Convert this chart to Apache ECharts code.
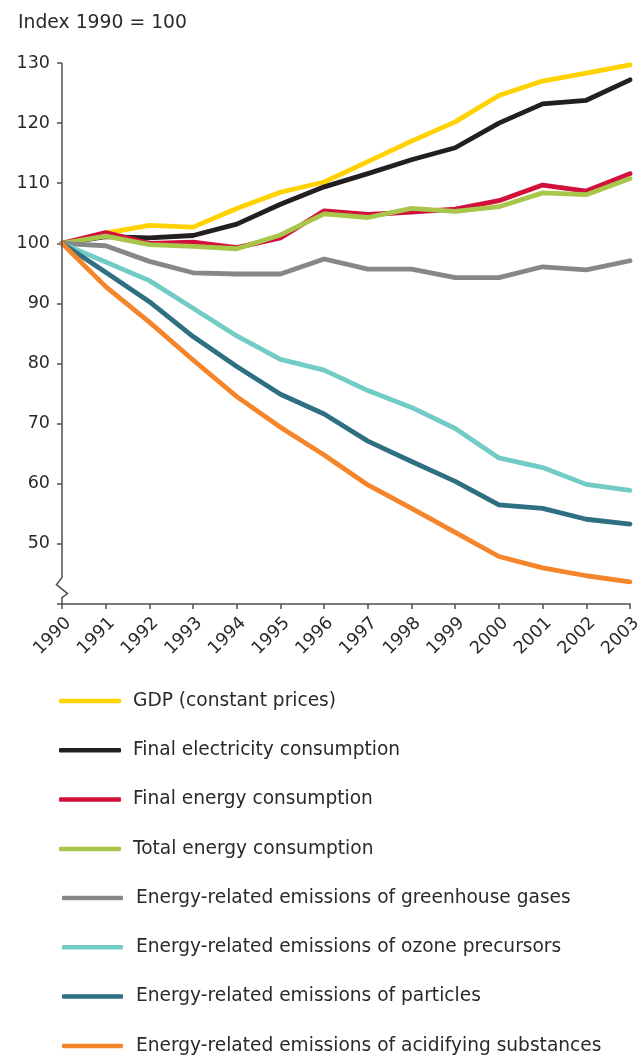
<!DOCTYPE html>
<html><head><meta charset="utf-8">
<script src="https://cdn.jsdelivr.net/npm/echarts@6/dist/echarts.min.js"></script>
<style>html,body{margin:0;padding:0;background:#fff}#c{width:641px;height:1055px}</style>
</head><body><div id="c"></div>
<script>
const years = ['1990','1991','1992','1993','1994','1995','1996','1997','1998','1999','2000','2001','2002','2003'];
const gdp         = [100, 101.7, 103.0, 102.7, 105.8, 108.5, 110.2, 113.6, 117.0, 120.2, 124.6, 127.0, 128.3, 129.7];
const electricity = [100, 101.1, 100.9, 101.3, 103.2, 106.5, 109.4, 111.6, 113.9, 115.9, 120.0, 123.2, 123.8, 127.2];
const finalEnergy = [100, 101.8, 100.0, 100.2, 99.3, 100.9, 105.4, 104.8, 105.2, 105.7, 107.1, 109.7, 108.7, 111.6];
const totalEnergy = [100, 101.2, 99.8, 99.5, 99.1, 101.4, 104.9, 104.3, 105.8, 105.3, 106.1, 108.4, 108.1, 110.8];
const ghg         = [100, 99.6, 97.0, 95.1, 94.9, 94.9, 97.4, 95.7, 95.7, 94.3, 94.3, 96.1, 95.6, 97.1];
const ozone       = [100, 96.9, 93.8, 89.2, 84.6, 80.7, 78.9, 75.5, 72.7, 69.2, 64.3, 62.7, 59.9, 58.9];
const particles   = [100, 95.2, 90.3, 84.5, 79.5, 74.9, 71.6, 67.1, 63.7, 60.4, 56.5, 55.9, 54.1, 53.3];
const acidifying  = [100, 92.8, 86.9, 80.6, 74.5, 69.4, 64.8, 59.8, 55.9, 51.9, 47.9, 46.0, 44.7, 43.7];
const seriesNames = ['GDP (constant prices)','Final electricity consumption','Final energy consumption','Total energy consumption',
  'Energy-related emissions of greenhouse gases','Energy-related emissions of ozone precursors','Energy-related emissions of particles','Energy-related emissions of acidifying substances'];
const seriesData = [gdp, electricity, finalEnergy, totalEnergy, ghg, ozone, particles, acidifying];
const colors = ['#FFD200','#231F20','#D3103C','#A8C64A','#868789','#72CBC5','#2E6F82','#F5852A'];
const yMin = 40, yMax = 130, yStep = 10;
const yTitle = 'Index 1990 = 100';

const FONT = 'DejaVu Sans';
const TXT = '#2a2a2a';
const AX = '#505050';
const chart = echarts.init(document.getElementById('c'), null, {renderer:'canvas'});
chart.setOption({
  animation: false,
  title: {text: yTitle, left: 18, top: 14, padding: 0, textStyle: {fontFamily: FONT, fontSize: 18.8, fontWeight: 'normal', color: TXT}},
  grid: {left: 62, right: 11, top: 63, bottom: 451, containLabel: false, outerBoundsMode: 'none'},
  xAxis: {type: 'category', data: years, boundaryGap: false,
    axisLine: {onZero: false, lineStyle: {color: AX, width: 1.5}},
    axisTick: {length: 5, lineStyle: {color: AX, width: 1.5}},
    axisLabel: {rotate: 45, margin: 10, verticalAlign: 'top', fontFamily: FONT, fontSize: 17.5, color: TXT},
    splitLine: {show: false}},
  yAxis: {type: 'value', min: yMin, max: yMax, interval: yStep,
    axisLine: {show: false},
    axisTick: {show: true, length: 5, lineStyle: {color: AX, width: 1.5}},
    axisLabel: {margin: 12, fontFamily: FONT, fontSize: 17.5, color: TXT, formatter: v => v === yMin ? '' : String(v)},
    splitLine: {show: false}},
  legend: [
    {orient: 'vertical', left: 59, top: 691, height: 200, padding: 0, itemWidth: 62, itemHeight: 4.5, itemGap: 29.3, icon: 'roundRect',
     textStyle: {fontFamily: FONT, fontSize: 18.6, color: TXT, lineHeight: 20, padding: [0, 0, 0, 7]},
     data: seriesNames.slice(0, 4), selectedMode: false},
    {orient: 'vertical', left: 62, top: 888, height: 200, padding: 0, itemWidth: 61, itemHeight: 4.5, itemGap: 29.3, icon: 'roundRect',
     textStyle: {fontFamily: FONT, fontSize: 18.6, color: TXT, lineHeight: 20, padding: [0, 0, 0, 8]},
     data: seriesNames.slice(4), selectedMode: false}
  ],
  series: seriesNames.map((n, i) => ({
    name: n, type: 'line', data: seriesData[i], symbol: 'none', color: colors[i],
    lineStyle: {width: 4.8, color: colors[i], cap: 'round', join: 'round'},
    z: 2 + i
  }))
});

// y-axis line with break mark, positioned from the axis scale
const pTop = chart.convertToPixel({xAxisIndex: 0, yAxisIndex: 0}, [0, yMax]);
const pBrk = chart.convertToPixel({xAxisIndex: 0, yAxisIndex: 0}, [0, 44.4]);
const pBot = chart.convertToPixel({xAxisIndex: 0, yAxisIndex: 0}, [0, yMin]);
const x0 = pTop[0];
chart.setOption({graphic: [{type: 'polyline', silent: true, z: 10,
  shape: {points: [[x0, pTop[1]], [x0, pBrk[1]], [x0 - 5.5, pBrk[1] + 7], [x0 + 5.5, pBrk[1] + 16], [x0, pBrk[1] + 20], [x0, pBot[1]]]},
  style: {stroke: AX, lineWidth: 1.5, fill: null}}]});
</script></body></html>
